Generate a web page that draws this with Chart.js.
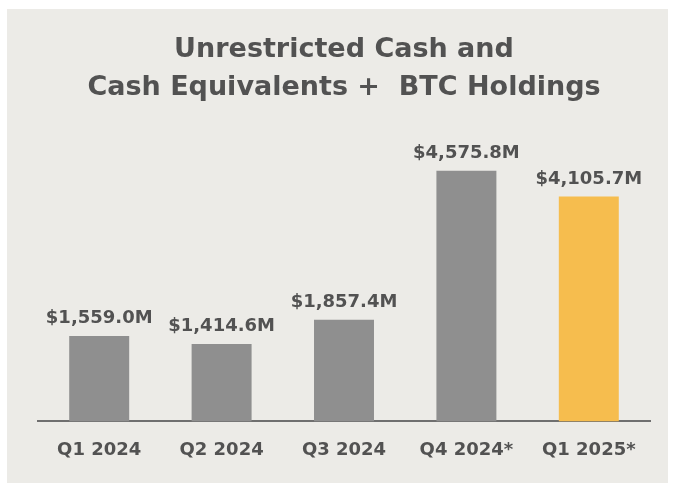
<!DOCTYPE html>
<html>
<head>
<meta charset="utf-8">
<script src="https://cdn.jsdelivr.net/npm/chart.js@4"></script>
<style>
  body { margin: 0; background: #ffffff; }
  #panel {
    position: absolute; left: 7px; top: 9px;
    width: 661px; height: 474px;
    background: #ecebe7;
  }
</style>
</head>
<body>
<div id="panel"><canvas id="cash"></canvas></div>
<script>
// quarters and holdings ($M)
const quarters = ['Q1 2024', 'Q2 2024', 'Q3 2024', 'Q4 2024*', 'Q1 2025*'];
const holdings = [1559.0, 1414.6, 1857.4, 4575.8, 4105.7];
const valueLabels = ['$1,559.0M', '$1,414.6M', '$1,857.4M', '$4,575.8M', '$4,105.7M'];
const barColors = ['#8f8f8f', '#8f8f8f', '#8f8f8f', '#8f8f8f', '#f6bd4e'];

//draws the $ labels on top of each bar
const valueLabelPlugin = {
  id: 'valueLabels',
  afterDatasetsDraw(chart) {
    const ctx = chart.ctx;
    const bars = chart.getDatasetMeta(0).data;
    ctx.save();
    ctx.font = 'bold 18px "DejaVu Sans"';
    ctx.fillStyle = '#525252';
    ctx.textAlign = 'center';
    ctx.textBaseline = 'alphabetic';
    bars.forEach((bar, i) => {
      ctx.fillText(valueLabels[i], bar.x, bar.y - 13);
    });
    ctx.restore();
  }
};

let cashChart = new Chart(document.getElementById('cash'), {
  type: 'bar',
  data: {
    labels: quarters,
    datasets: [{
      label: 'Cash + BTC',
      data: holdings,
      backgroundColor: barColors,
      borderWidth: 0,
      barPercentage: 0.49,
      categoryPercentage: 1.0
    }]
  },
  options: {
    responsive: true,
    maintainAspectRatio: false,
    animation: false,
    layout: {
      padding: { left: 31, right: 18, bottom: 4, top: 0 }
    },
    plugins: {
      legend: { display: false },
      tooltip: { enabled: false },
      title: {
        display: true,
        text: ['Unrestricted Cash and', 'Cash Equivalents +  BTC Holdings'],
        color: '#525252',
        font: { family: '"DejaVu Sans"', size: 27, weight: 'bold', lineHeight: 1.4 },
        padding: { top: 22, bottom: 41 }
      }
    },
    scales: {
      y: {
        display: false,
        min: 0,
        max: 5000
      },
      x: {
        grid: { display: false, drawTicks: false },
        border: { display: true, color: '#6f6f6f', width: 2 },
        ticks: {
          color: '#525252',
          padding: 18,
          font: { family: '"DejaVu Sans"', size: 18, weight: 'bold' }
        }
      }
    }
  },
  plugins: [valueLabelPlugin]
});
</script>
</body>
</html>
